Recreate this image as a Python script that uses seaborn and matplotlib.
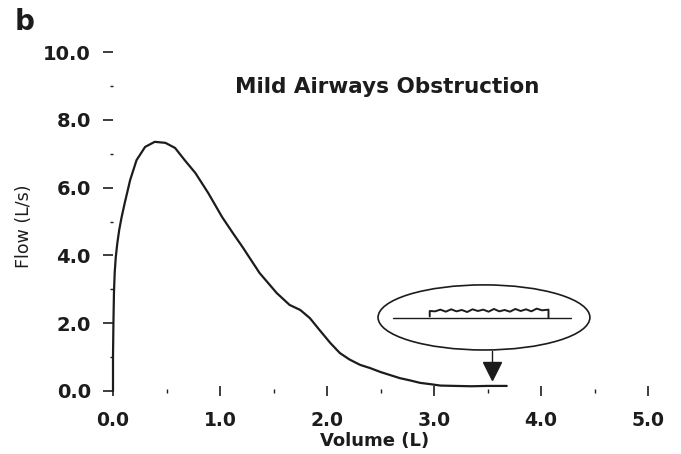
import matplotlib
matplotlib.use("Agg")
import matplotlib.pyplot as plt
import seaborn as sns
import numpy as np
import pandas as pd
from matplotlib.patches import Ellipse

# ---- data ----
volume = [0.0, 0.0, 0.004, 0.009, 0.016, 0.026, 0.04, 0.058, 0.08, 0.11, 0.16, 0.22,
          0.30, 0.39, 0.49, 0.58, 0.67, 0.77, 0.89, 1.02, 1.12, 1.21, 1.37, 1.53,
          1.65, 1.75, 1.84, 1.93, 2.03, 2.12, 2.21, 2.31, 2.40, 2.50, 2.59, 2.68,
          2.78, 2.87, 2.97, 3.06, 3.20, 3.35, 3.50, 3.60, 3.68]
flow = [0.0, 1.0, 2.0, 2.9, 3.5, 3.95, 4.35, 4.75, 5.12, 5.55, 6.22, 6.81,
        7.20, 7.35, 7.32, 7.17, 6.81, 6.43, 5.84, 5.13, 4.66, 4.25, 3.48, 2.89,
        2.54, 2.39, 2.15, 1.80, 1.42, 1.12, 0.93, 0.77, 0.68, 0.56, 0.47, 0.38,
        0.31, 0.24, 0.20, 0.16, 0.15, 0.14, 0.15, 0.15, 0.15]

x_ticks = [0.0, 1.0, 2.0, 3.0, 4.0, 5.0]
x_tick_labels = ["0.0", "1.0", "2.0", "3.0", "4.0", "5.0"]
y_ticks = [0.0, 2.0, 4.0, 6.0, 8.0, 10.0]
y_tick_labels = ["0.0", "2.0", "4.0", "6.0", "8.0", "10.0"]

title = "Mild Airways Obstruction"
panel = "b"
x_label = "Volume (L)"
y_label = "Flow (L/s)"

# magnified tail trace inside the ellipse (decoration)
jag_x = [2.96, 2.96, 3.01, 3.06, 3.11, 3.16, 3.21, 3.26, 3.31, 3.36, 3.41, 3.46, 3.51,
         3.56, 3.61, 3.66, 3.71, 3.76, 3.81, 3.86, 3.91, 3.96, 4.01, 4.07, 4.07]
jag_y = [2.20, 2.36, 2.35, 2.40, 2.34, 2.41, 2.35, 2.39, 2.33, 2.41, 2.36, 2.40, 2.34,
         2.42, 2.35, 2.39, 2.34, 2.42, 2.36, 2.41, 2.35, 2.43, 2.38, 2.40, 2.16]

# ---- figure ----
sns.set_theme(style="white")
plt.rcParams["font.family"] = ["DejaVu Sans"]
ink = "#1c1c1c"

fig = plt.figure(figsize=(6.81, 4.54), dpi=100)
fig.patch.set_facecolor("white")
ax = fig.add_axes([113 / 681, 1 - 391 / 454, 535 / 681, 339 / 454])
ax.set_facecolor("white")

df = pd.DataFrame({"Volume": volume, "Flow": flow})
sns.lineplot(data=df, x="Volume", y="Flow", sort=False, estimator=None,
             color=ink, linewidth=1.6, ax=ax, clip_on=False)

ax.set_xlim(0, 5)
ax.set_ylim(0, 10)
for s in ax.spines.values():
    s.set_visible(False)

ax.set_xticks(x_ticks, labels=x_tick_labels, fontweight="bold", fontsize=13.5, color=ink)
ax.set_yticks(y_ticks, labels=y_tick_labels, fontweight="bold", fontsize=14, color=ink)
ax.set_xticks(np.arange(0.5, 5.0, 1.0), minor=True)
ax.set_yticks(np.arange(1.0, 10.0, 2.0), minor=True)
ax.tick_params(axis="x", which="major", direction="inout", length=7, width=1.2,
               color=ink, pad=11, bottom=True)
ax.tick_params(axis="x", which="minor", direction="inout", length=3.5, width=1.0,
               color=ink, bottom=True)
ax.tick_params(axis="y", which="major", direction="out", length=7, width=1.2,
               color=ink, pad=9, left=True)
ax.tick_params(axis="y", which="minor", direction="out", length=2.5, width=1.0,
               color=ink, left=True)
ax.set_xlabel("")
ax.set_ylabel("")
ax.grid(False)

# title inside the plot
ax.text(2.56, 8.97, title, ha="center", va="center", fontsize=15.5,
        fontweight="bold", color=ink)

# ellipse annotation
ax.add_patch(Ellipse((3.467, 2.17), 1.98, 1.92, fill=False, edgecolor=ink, linewidth=1.2))
ax.plot([2.62, 4.28], [2.15, 2.15], color=ink, linewidth=1.0)
ax.plot(jag_x, jag_y, color=ink, linewidth=1.4)
ax.plot([3.54, 3.54], [1.17, 0.87], color=ink, linewidth=1.0)
ax.plot([3.54], [0.58], marker="v", markersize=13, color=ink, linestyle="none",
        clip_on=False)

# labels
fig.text(24 / 681, 1 - 226 / 454, y_label, rotation=90, ha="center", va="center",
         fontsize=12.5, color=ink)
fig.text(375 / 681, 1 - 441 / 454, x_label, ha="center", va="center",
         fontsize=13, fontweight="bold", color=ink)
fig.text(25 / 681, 1 - 22 / 454, panel, ha="center", va="center",
         fontsize=20, fontweight="bold", color=ink)

fig.savefig("out.png", dpi=100, facecolor="white")
